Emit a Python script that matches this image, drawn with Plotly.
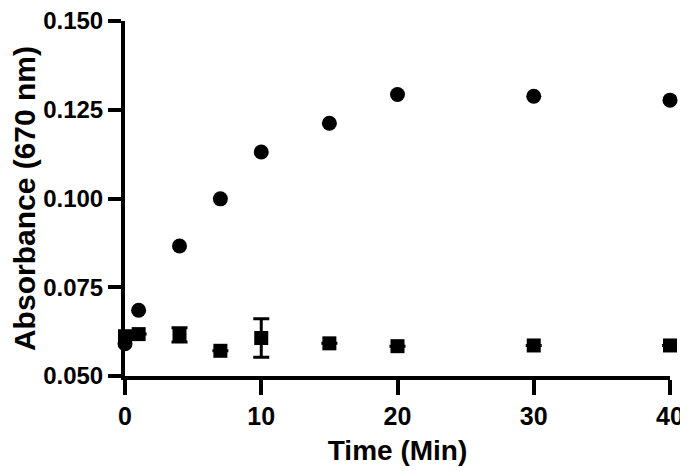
import plotly.graph_objects as go

# Datos
tiempo = [0, 1, 4, 7, 10, 15, 20, 30, 40]
abs_circulos = [0.0591, 0.0685, 0.0866, 0.0999, 0.1131, 0.1212, 0.1293, 0.1288, 0.1277]
abs_cuadros = [0.0612, 0.0618, 0.0616, 0.0571, 0.0607, 0.0592, 0.0584, 0.0586, 0.0586]
err_cuadros = [None, None, 0.0020, None, 0.0054, None, None, None, None]

ticks_x = [0, 10, 20, 30, 40]
ticks_y = [0.050, 0.075, 0.100, 0.125, 0.150]
etiquetas_y = ["0.050", "0.075", "0.100", "0.125", "0.150"]

fuente = "Liberation Sans"

fig = go.Figure()

fig.add_trace(go.Scatter(x=tiempo, y=abs_circulos, mode='markers',
                         marker=dict(symbol='circle', size=15, color='black'),
                         cliponaxis=False, name='círculos'))

fig.add_trace(go.Scatter(x=tiempo, y=abs_cuadros, mode='markers',
                         marker=dict(symbol='square', size=14, color='black'),
                         error_y=dict(type='data', array=err_cuadros, visible=True,
                                      color='black', thickness=3, width=8),
                         cliponaxis=False, name='cuadros'))

# la página tiene 8 px de margen, así que la figura es algo más chica
fig.update_layout(
    width=680, height=463,
    margin=dict(l=117, r=18, t=13, b=95, autoexpand=False),
    plot_bgcolor='white', paper_bgcolor='white',
    showlegend=False,
    xaxis=dict(range=[0, 40], tickvals=ticks_x, showgrid=False, zeroline=False,
               automargin=False, ticklabeloverflow='allow',
               showline=True, linewidth=4, linecolor='black',
               ticks='outside', ticklen=15, tickwidth=4, tickcolor='black',
               tickfont=dict(family=fuente, size=25, color='black', weight='bold'),
               title=dict(text='Time (Min)', standoff=12,
                          font=dict(family=fuente, size=28, color='black', weight='bold'))),
    yaxis=dict(range=[0.05, 0.15], tickvals=ticks_y, ticktext=etiquetas_y,
               showgrid=False, zeroline=False,
               automargin=True, ticklabeloverflow='allow',
               showline=True, linewidth=4, linecolor='black',
               ticks='outside', ticklen=13, tickwidth=4, tickcolor='black',
               tickfont=dict(family=fuente, size=24, color='black', weight='bold'),
               title=dict(text='Absorbance (670 nm)', standoff=14,
                          font=dict(family=fuente, size=30, color='black', weight='bold'))),
)

fig.write_html("out.html")
